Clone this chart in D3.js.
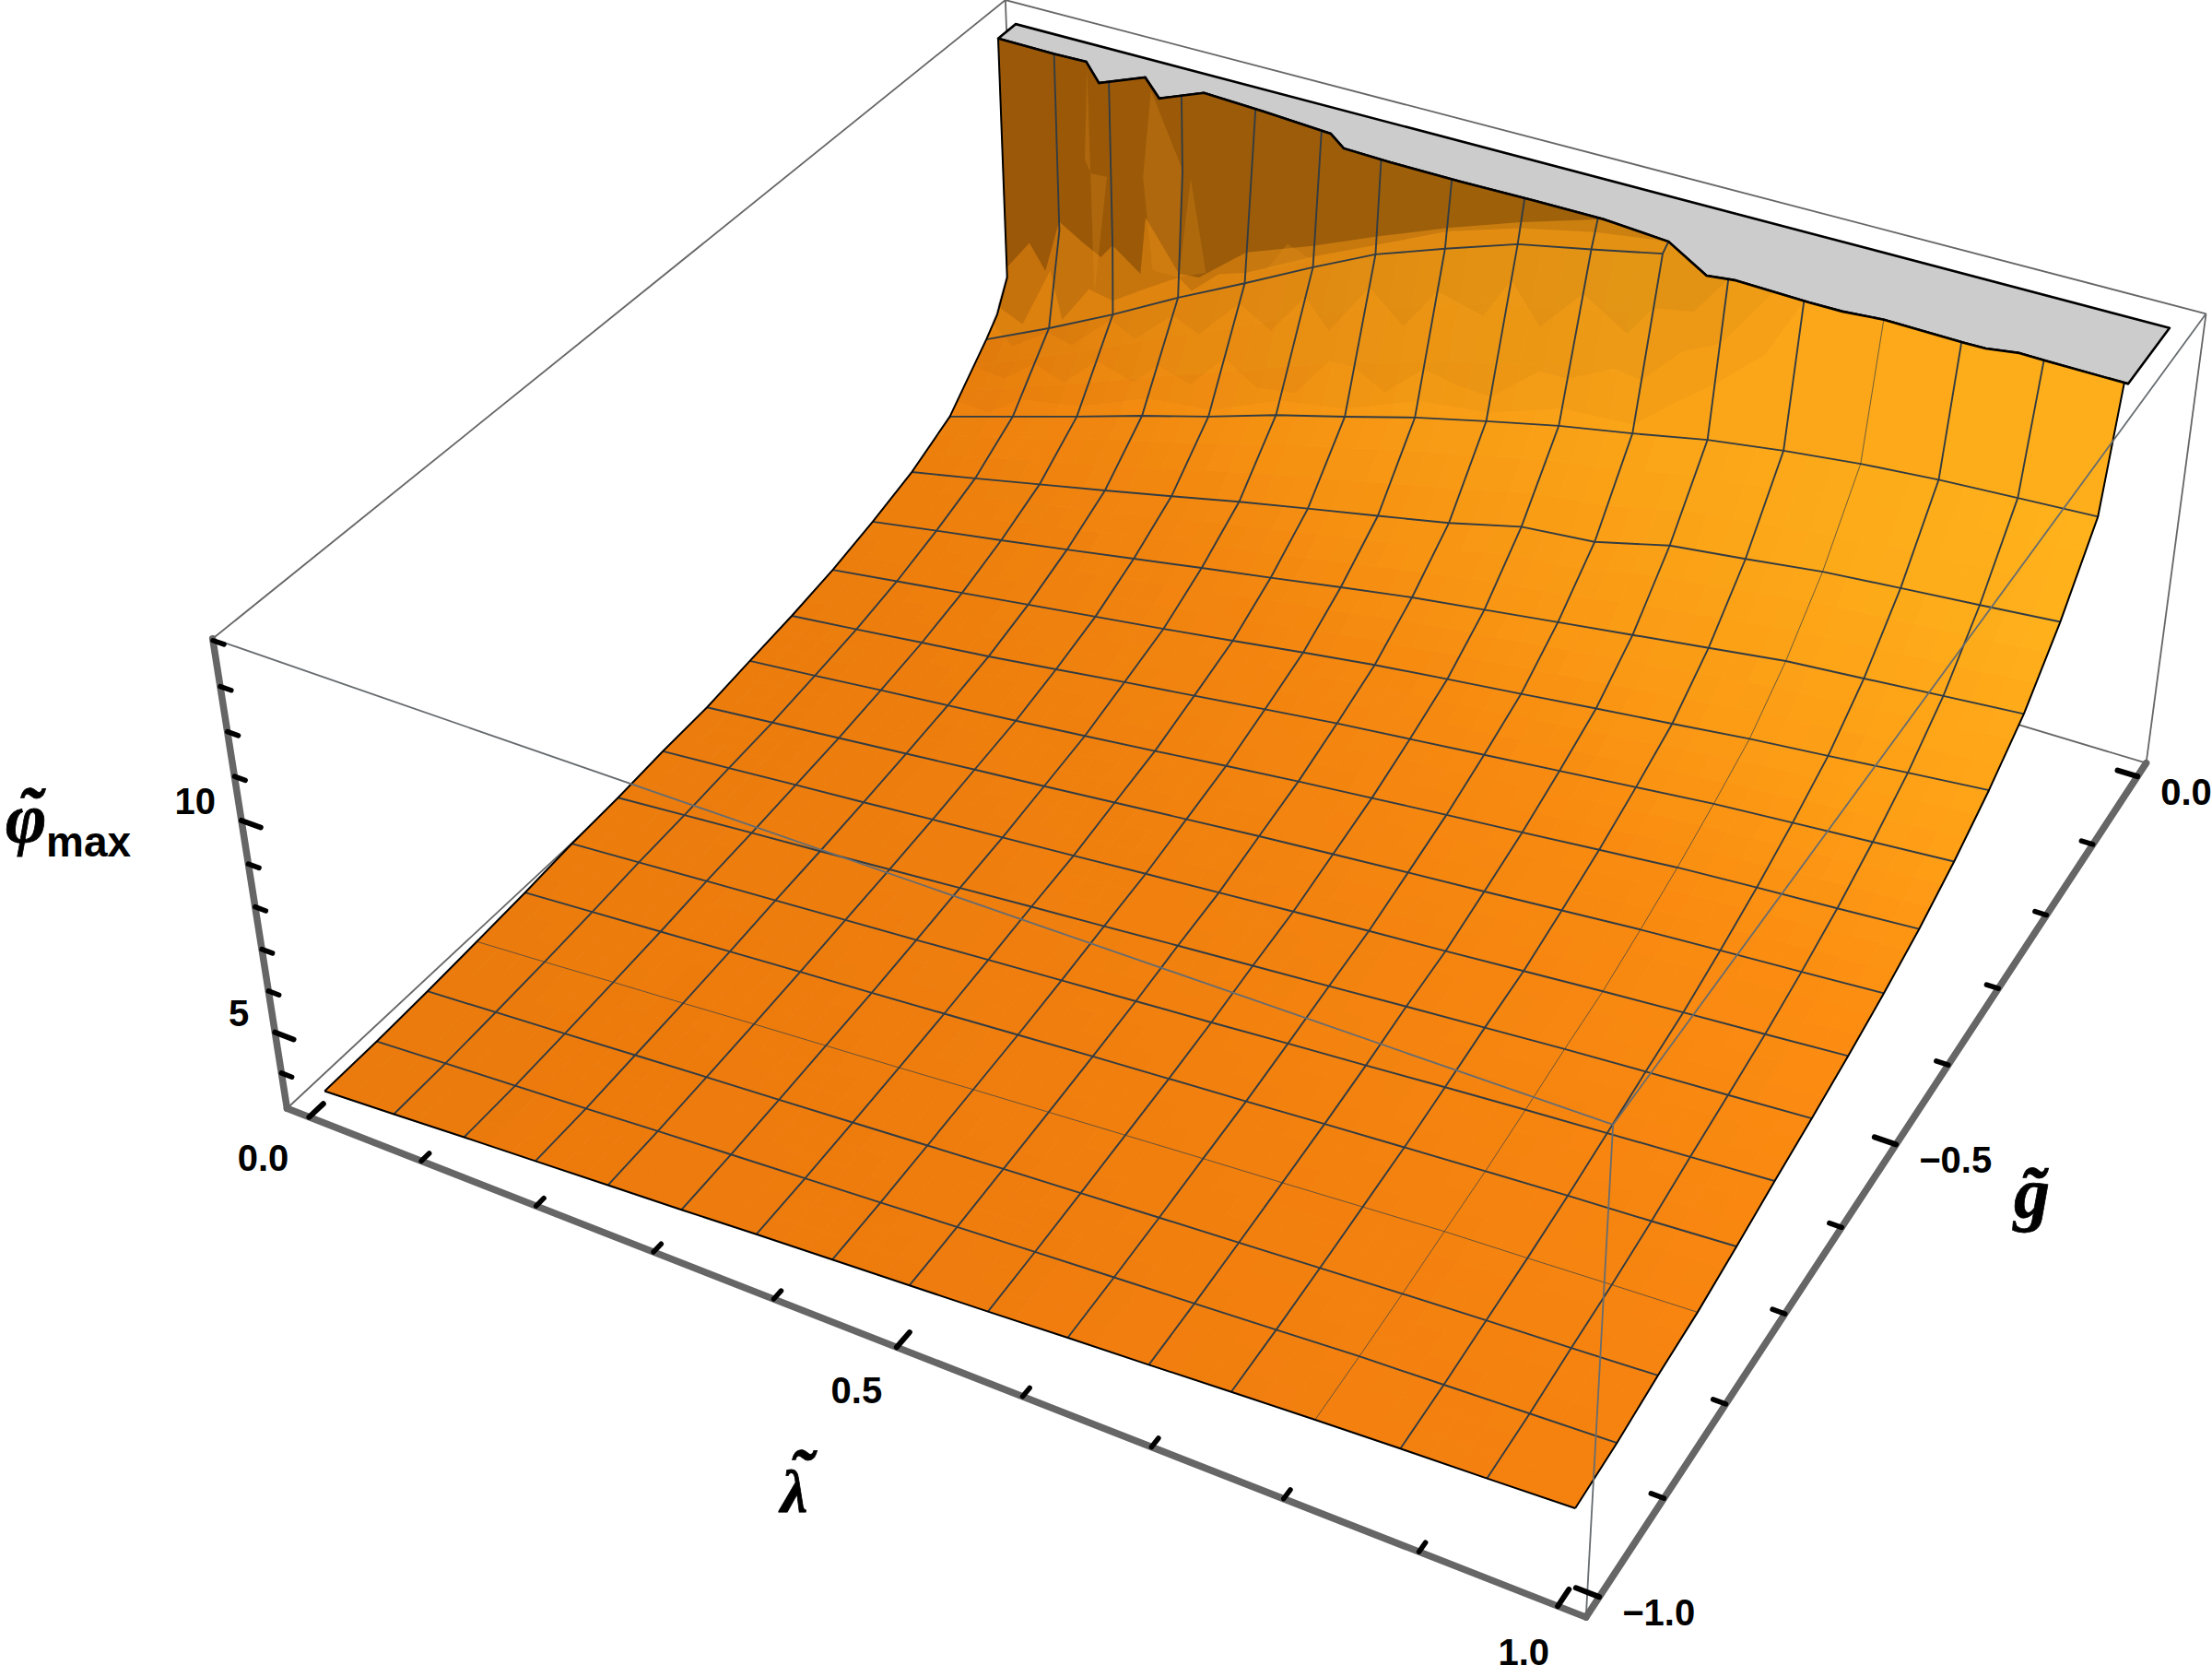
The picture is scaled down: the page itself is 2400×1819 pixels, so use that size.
<!DOCTYPE html><html><head><meta charset="utf-8"></head><body style="margin:0;background:#fff"><script src="https://cdn.jsdelivr.net/npm/d3@7"></script><svg id="s" width="2400" height="1819" style="display:block"></svg><script>
const lambdaGrid=[0,.0625,.125,.1875,.25,.3125,.375,.4375,.5,.5625,.625,.6875,.75,.8125,.875,.9375,1];
const gGrid=[-1,-.9375,-.875,-.8125,-.75,-.6875,-.625,-.5625,-.5,-.4375,-.375,-.3125,-.25,-.1875,-.125,-.0625];
const phiRow0=[3.37,3.47,3.58,3.68,3.78,3.88,3.99,4.09,4.19,4.29,4.40,4.50,4.61,4.71,4.80,4.88,4.97];
const phiRow1=[3.39,3.50,3.61,3.72,3.84,3.95,4.06,4.17,4.28,4.39,4.50,4.60,4.71,4.82,4.90,4.98,5.06];
const phiRow2=[3.45,3.57,3.69,3.81,3.93,4.04,4.16,4.28,4.40,4.51,4.62,4.73,4.84,4.95,5.05,5.14,5.24];
const phiRow3=[3.53,3.65,3.78,3.90,4.03,4.15,4.27,4.40,4.52,4.64,4.76,4.87,4.99,5.11,5.19,5.28,5.36];
const phiRow4=[3.62,3.75,3.88,4.01,4.14,4.26,4.39,4.52,4.65,4.77,4.89,5.02,5.14,5.26,5.37,5.47,5.58];
const phiRow5=[3.74,3.87,4.01,4.14,4.27,4.40,4.54,4.67,4.80,4.93,5.07,5.20,5.34,5.47,5.59,5.71,5.83];
const phiRow6=[3.81,3.96,4.11,4.25,4.40,4.55,4.70,4.84,4.99,5.13,5.27,5.42,5.56,5.70,5.82,5.93,6.05];
const phiRow7=[3.92,4.07,4.23,4.38,4.54,4.69,4.84,5.00,5.15,5.30,5.45,5.59,5.74,5.89,6.03,6.16,6.30];
const phiRow8=[3.99,4.17,4.35,4.53,4.71,4.88,5.06,5.24,5.42,5.58,5.74,5.89,6.05,6.21,6.34,6.46,6.59];
const phiRow9=[4.15,4.33,4.52,4.70,4.88,5.07,5.27,5.48,5.68,5.86,6.04,6.21,6.39,6.57,6.70,6.82,6.95];
const phiRow10=[4.30,4.50,4.71,4.91,5.14,5.38,5.60,5.83,6.05,6.24,6.43,6.62,6.81,7.00,7.14,7.28,7.42];
const phiRow11=[4.50,4.74,4.98,5.22,5.46,5.70,5.95,6.21,6.46,6.67,6.87,7.08,7.28,7.49,7.66,7.84,8.01];
const phiRow12=[4.78,5.07,5.35,5.64,5.94,6.24,6.53,6.83,7.12,7.36,7.60,7.84,8.08,8.32,8.46,8.61,8.75];
const phiRow13=[5.12,5.47,5.83,6.19,6.56,6.94,7.29,7.63,7.98,8.41,8.57,9.01,9.22,9.45,9.60,9.74,9.89];
const phiRow14=[5.64,6.14,6.64,7.16,7.64,8.18,8.64,9.12,9.53,9.92,10.24,10.59,10.84,11.04,11.18,11.27,11.36];
const phiRow15=[6.75,7.52,8.35,9.25,10.08,10.94,11.89,12.53,13.10,13.44,13.9];
const topRowG=[-.0625,-.0625,-.0625,-.0625,-.0625,-.0625,-.075,-.078,-.078,-.078,-.085];
const kneePhi=[8.1,9.7,10.0,12.2];
const leftBendG=-.05,leftBendPhi=7.25;
const cutLambda=[.009,.0625,.092,.119,.147,.174,.201,.257,.321,.341,.383,.445,.507,.567,.625,.671,.692,.754,.781,.8125,.878,.894,.918,.94,1.003];
const cutG=[-.04,-.041,-.04,-.066,-.04,-.065,-.04,-.044,-.05,-.066,-.068,-.069,-.068,-.068,-.075,-.107,-.103,-.106,-.106,-.102,-.104,-.104,-.098,-.099,-.1];
const capBackG=-.012;
const phiTicks=[4,5,6,7,8,9,10,11,12,13,14];
const lambdaTicks=[0,.1,.2,.3,.4,.5,.6,.7,.8,.9,1];
const gTicks=[-1,-.9,-.8,-.7,-.6,-.5,-.4,-.3,-.2,-.1,0];
const phiLabels=[5,10];const lambdaLabels=[0,.5,1];const gLabels=[-1,-.5,0];
const phiRows=[phiRow0,phiRow1,phiRow2,phiRow3,phiRow4,phiRow5,phiRow6,phiRow7,phiRow8,phiRow9,phiRow10,phiRow11,phiRow12,phiRow13,phiRow14,phiRow15];
const phiMin=3.12,phiMax=14.04;
const xS=d3.scaleLinear([-.02,1.02],[0,1]),yS=d3.scaleLinear([-1.02,.02],[0,1]),zS=d3.scaleLinear([phiMin,phiMax],[0,1]);
const calib=[[0,0,0,311,1202],[1,0,0,1722,1754],[1,1,0,2328,828],[0,0,1,231,693],[1,0,1,1749,1220],[1,1,1,2394,340],[0,1,1,1091,0]];
function solve(A,b){const n=b.length;A=A.map((r,i)=>[...r,b[i]]);for(let i=0;i<n;i++){let m=i;for(let k=i;k<n;k++)if(Math.abs(A[k][i])>Math.abs(A[m][i]))m=k;[A[i],A[m]]=[A[m],A[i]];for(let k=0;k<n;k++)if(k!=i){const f=A[k][i]/A[i][i];for(let j=i;j<=n;j++)A[k][j]-=f*A[i][j];}}return A.map((r,i)=>r[n]/r[i]);}
const Rr=[],Bb=[];calib.forEach(([X,Y,Z,u,v])=>{Rr.push([X,Y,Z,1,0,0,0,0,-u*X,-u*Y,-u*Z]);Bb.push(u);Rr.push([0,0,0,0,X,Y,Z,1,-v*X,-v*Y,-v*Z]);Bb.push(v);});
const P=solve(d3.range(11).map(i=>d3.range(11).map(j=>d3.sum(Rr,r=>r[i]*r[j]))),d3.range(11).map(i=>d3.sum(Rr,(r,k)=>r[i]*Bb[k])));
const cam=(X,Y,Z)=>{const w=P[8]*X+P[9]*Y+P[10]*Z+1;return[(P[0]*X+P[1]*Y+P[2]*Z+P[3])/w,(P[4]*X+P[5]*Y+P[6]*Z+P[7])/w];};
const proj=(l,g,z)=>cam(xS(l),yS(g),zS(z));
const svg=d3.select('#s');
const poly=pts=>'M'+pts.map(p=>p[0].toFixed(2)+','+p[1].toFixed(2)).join('L')+'Z';
const line=pts=>'M'+pts.map(p=>p[0].toFixed(2)+','+p[1].toFixed(2)).join('L');
const lerp=(a,b,t)=>[a[0]+(b[0]-a[0])*t,a[1]+(b[1]-a[1])*t,a[2]+(b[2]-a[2])*t];
const cutAt=d3.scaleLinear(cutLambda,cutG).clamp(true);
const cutV=c=>{const l=c==0?cutLambda[0]:lambdaGrid[c];return[l,cutAt(l),phiMax];};
const vtx=(r,c)=>{if(r<=14)return[lambdaGrid[c],gGrid[r],phiRows[r][c]];if(r==15&&c<=10)return[lambdaGrid[c],topRowG[c],phiRow15[c]];return cutV(c);};
const kneeAt=c=>{if(c<kneePhi.length){const v=cutV(c);return[v[0],v[1],kneePhi[c]];}return lerp(vtx(15,c),cutV(c),.5);};
const leftBend=[.004,leftBendG,leftBendPhi];
const lamOfP=d3.scaleLinear(d3.range(17),lambdaGrid);
function wallCol(c,t){const a=vtx(15,c),k=kneeAt(c),b=cutV(c),z=a[2]+(phiMax-a[2])*t;return z<k[2]?lerp(a,k,(z-a[2])/(k[2]-a[2])):lerp(k,b,(z-k[2])/(phiMax-k[2]));}
function surf(p,q){const c=Math.min(15,Math.floor(p)),t=p-c;const l=lamOfP(p);
 if(q>15&&p<=10){const c1=Math.min(9,c),t1=p-c1,u=q-15,v=lerp(wallCol(c1,u),wallCol(c1+1,u),t1);
  const top=lerp(cutV(c1),cutV(c1+1),t1);v[1]+=u*(cutAt(l)-top[1]);return v;}
 const rowAt=r=>{if(r<=14)return lerp(vtx(r,c),vtx(r,c+1),t);if(r==15&&p<=10)return lerp(vtx(15,c),vtx(15,c+1),t);return[l,cutAt(l),phiMax];};
 const r=Math.min(15,Math.floor(q));return lerp(rowAt(r),rowAt(r+1),q-r);}
const colourAt0=d3.scaleLinear([0,.3,.5,1],['#EB7A0C','#EE830E','#F18C10','#F39012']);
const colourAt1=d3.scaleLinear([.15,.3,.4,.6,1],['#F4800F','#FC8D11','#FFA016','#FFB01B','#FFB51C']);
const colourOf=(l,z)=>{const Z=zS(z);return d3.interpolateRgb(colourAt0(Z),colourAt1(Z))(l);};
const gBack=svg.append('g'),gCap=svg.append('g'),gSurf=svg.append('g'),gWall=svg.append('g'),gMesh=svg.append('g'),gFront=svg.append('g'),gAxes=svg.append('g'),gText=svg.append('g');
const boxL=[-.02,1.02],boxG=[-1.02,.02],boxZ=[phiMin,phiMax];
const corner=(a,b,c)=>proj(boxL[a],boxG[b],boxZ[c]);
const backEdges=[[[0,0,0],[0,1,0]],[[0,1,0],[1,1,0]],[[0,1,0],[0,1,1]],[[0,0,1],[0,1,1]],[[0,1,1],[1,1,1]],[[1,1,0],[1,1,1]]];
const frontEdges=[[[0,0,1],[1,0,1]],[[1,0,1],[1,1,1]],[[1,0,0],[1,0,1]]];
const edge=e=>line(e.map(c=>corner(...c)));
gBack.selectAll('path').data(backEdges).join('path').attr('d',edge).attr('fill','none').attr('stroke','#666').attr('stroke-width',1.8);
const capEdge=cutLambda.map((l,i)=>proj(l,cutG[i],phiMax));
gCap.append('path').attr('d',poly([...capEdge,proj(cutLambda[cutLambda.length-1],capBackG,phiMax),proj(cutLambda[0],capBackG,phiMax)])).attr('fill','#CCCCCC').attr('stroke','#000').attr('stroke-width',2.6).attr('stroke-linejoin','round');
const sub=3;
for(let r=0;r<15;r++)for(let c=0;c<16;c++){for(let i=0;i<sub;i++)for(let j=0;j<sub;j++){
 if(r==14&&c>=10)continue;
 const a=surf(c+j/sub,r+i/sub),b=surf(c+(j+1)/sub,r+i/sub),d=surf(c+(j+1)/sub,r+(i+1)/sub),e=surf(c+j/sub,r+(i+1)/sub);
 const col=colourOf((a[0]+b[0])/2,(a[2]+d[2])/2);
 gSurf.append('path').attr('d',poly([a,b,d,e].map(v=>proj(...v)))).attr('fill',col).attr('stroke',col).attr('stroke-width',.9);}}
const cutBetween=(p0,p1)=>{const l0=lamOfP(p0),l1=lamOfP(p1);return cutLambda.map((l,i)=>[l,cutG[i],phiMax]).filter(v=>v[0]>l0&&v[0]<l1);};
for(let c=0;c<16;c++){const low=c<10?15:14;
 const all=[vtx(low,c),vtx(low,c+1)];
 if(c==10)all.unshift(vtx(15,10));
 if(c<10)all.push(kneeAt(c+1));
 const top=[cutV(c+1),...cutBetween(c,c+1).reverse(),cutV(c)];
 if(c<10)top.push(kneeAt(c));
 if(c==0)top.push(leftBend);
 const col=colourOf(lambdaGrid[c],10);
 gSurf.append('path').attr('d',poly([...all,...top].map(v=>proj(...v)))).attr('fill',col).attr('stroke',col).attr('stroke-width',.9);}
const wallLayers=[
 {o:.03,low:[[0,14.2],[.6,14.05],[1,14.2],[2,14.1],[3,14.15],[4,14.05],[5,14.1],[6,14.05],[7,14.1],[8,14.05],[9,14.1],[10,14.05],[10.5,14.2],[11,14.35],[11.6,14.6],[12,15]]},
 {o:.035,low:[[0,14.65],[.6,14.45],[1,14.6],[1.6,14.35],[2,14.55],[2.7,14.3],[3,14.43],[3.6,14.25],[4,14.44],[4.6,14.2],[5.2,14.15],[5.6,14.35],[6,14.31],[6.5,14.15],[7,14.29],[7.5,14.2],[8,14.14],[8.6,14.3],[9,14.27],[9.6,14.35],[10,14.3],[10.5,14.5],[11,14.6],[11.6,15]]},
 {o:.05,low:[[0,15.05],[.5,14.85],[1,14.95],[1.5,14.75],[2,14.95],[2.5,14.7],[3,14.85],[3.5,14.65],[4,14.85],[4.6,14.6],[5,14.8],[5.5,14.55],[6,14.8],[6.6,14.55],[7,14.75],[7.7,14.6],[8,14.8],[8.5,14.55],[9,14.75],[9.7,14.55],[10,14.7],[10.6,14.75],[11,15]]},
 {o:.14,low:[[0,15.1],[.55,15.03],[.9,15.2],[1.2,15.02],[1.6,15.12],[2,15.06],[2.5,15.08],[3,15.1],[3.2,15.02],[3.6,15.08],[4,15.06],[5,15.08],[6,15.1],[7,15.25],[8,15.35],[9,15.55],[9.9,15.9],[10,16]]},
 {o:.3,low:[[0,15.22],[.45,15.3],[.8,15.2],[1,15.37],[1.4,15.3],[1.8,15.25],[2,15.3],[2.4,15.15],[2.45,15.4],[3,15.12],[3.3,15.08],[3.8,15.15],[4,15.18],[5,15.16],[6,15.19],[7,15.3],[8,15.48],[9,15.95],[9.3,16]]}];
wallLayers.forEach(L=>{const pS=L.low[0][0],pE=L.low[L.low.length-1][0];
 const top=[[lamOfP(pE),cutAt(lamOfP(pE)),phiMax],...cutBetween(pS,pE).reverse(),cutV(0)];
 const q0=L.low[0][1];const side=d3.range(15.9,q0,-.1).map(q=>surf(0,q));
 gWall.append('path').attr('d',poly([...L.low.map(([p,q])=>surf(p,q)),...top,...side].map(v=>proj(...v)))).attr('fill','#3c1e00').attr('fill-opacity',L.o);});
const lightSpikes=[[[1.5,15.98],[1.45,15.62],[1.6,15.58],[1.95,15.6],[1.7,15.1]],[[2.53,15.98],[3,15.63],[3,15.1],[2.6,15.16],[2.37,15.57]],[[3.1,15.58],[3.4,15.1],[3,15.1]],[[4.6,15.2],[5,15.05],[4.3,15.05]]];
lightSpikes.forEach(s=>gWall.append('path').attr('d',poly(s.map(([p,q])=>proj(...surf(p,q))))).attr('fill','#E8951A').attr('fill-opacity',.25));
const meshCol='#333C42';
const thinRow=3,thinCol=13;
d3.range(1,16).forEach(r=>{const last=r==15?10:16;const pts=d3.range(0,last+1).map(c=>proj(...vtx(r,c)));
 gMesh.append('path').attr('d',line(pts)).attr('fill','none').attr('stroke',meshCol).attr('stroke-width',r==thinRow?.7:1.9);});
const colLine=c=>{const pts=d3.range(0,16).filter(r=>r<15||c<=10).map(r=>vtx(r,c));if(c==0)pts.push(leftBend);if(c<kneePhi.length)pts.push(kneeAt(c));pts.push(cutV(c));return pts.map(v=>proj(...v));};
d3.range(1,16).forEach(c=>gMesh.append('path').attr('d',line(colLine(c))).attr('fill','none').attr('stroke',meshCol).attr('stroke-width',c==thinCol?.7:1.9));
const left=colLine(0);
const right=d3.range(0,15).map(r=>proj(...vtx(r,16))).concat([proj(...cutV(16))]);
const bottom=d3.range(0,17).map(c=>proj(...vtx(0,c)));
[left,right,bottom].forEach(b=>gMesh.append('path').attr('d',line(b)).attr('fill','none').attr('stroke','#000').attr('stroke-width',2).attr('stroke-linejoin','round'));
gMesh.append('path').attr('d',line(capEdge)).attr('fill','none').attr('stroke','#000').attr('stroke-width',2.6);
gFront.selectAll('path').data(frontEdges).join('path').attr('d',edge).attr('fill','none').attr('stroke','#666C70').attr('stroke-width',1.8);
const axes=[[[0,0,0],[0,0,1]],[[0,0,0],[1,0,0]],[[1,0,0],[1,1,0]]];
gAxes.selectAll('path').data(axes).join('path').attr('d',edge).attr('fill','none').attr('stroke','#666').attr('stroke-width',7.5).attr('stroke-linecap','round');
const tick=(a,b,w)=>gAxes.append('path').attr('d',line([a,b])).attr('stroke','#000').attr('stroke-width',w).attr('stroke-linecap','round');
const major=.016,minor=.009;
phiTicks.forEach(z=>{const m=phiLabels.includes(z);tick(proj(-.02,-1.02,z),cam(m?major:minor,0,zS(z)),m?6:5.5);});
lambdaTicks.forEach(l=>{const m=lambdaLabels.includes(l);tick(proj(l,-1.02,phiMin),cam(xS(l),m?major:minor,0),m?6:5.5);});
gTicks.forEach(g=>{const m=gLabels.includes(g);tick(proj(1.02,g,phiMin),cam(1-(m?major:minor),yS(g),0),m?6:5.5);});
const tf="'Liberation Sans',Arial,sans-serif",sf="'Liberation Serif','Times New Roman',serif";
const label=(x,y,s,a)=>gText.append('text').attr('x',x).attr('y',y).attr('dy','.36em').attr('text-anchor',a).attr('font-family',tf).attr('font-weight',700).attr('font-size',40).text(s);
phiLabels.forEach(z=>{const b=proj(-.02,-1.02,z);label(b[0]-28,b[1]-21,String(z),'end');});
lambdaLabels.forEach(l=>{const b=proj(l,-1.02,phiMin);label(b[0]-50+13*l,b[1]+44+5*l,d3.format('.1f')(l),'middle');});
gLabels.forEach(g=>{const b=proj(1.02,g,phiMin);label(b[0]+25,b[1]+16,d3.format('.1f')(g).replace('-','\u2212'),'start');});
const symSpan=(t,x,y,s,fs)=>t.append('tspan').attr('x',x).attr('y',y).attr('font-family',sf).attr('font-weight',700).attr('font-style','italic').attr('font-size',fs).attr('stroke','#000').attr('stroke-width',.8).text(s);
const tPhi=gText.append('text');
symSpan(tPhi,6,913,'\u03C6',76);symSpan(tPhi,19,907,'\u02DC',76);
tPhi.append('tspan').attr('x',50).attr('y',929).attr('font-family',tf).attr('font-weight',700).attr('font-size',46).text('max');
const tLam=gText.append('text');
symSpan(tLam,847,1640,'\u03BB',66);symSpan(tLam,856,1625,'\u02DC',76);
const tG=gText.append('text');
symSpan(tG,2185,1320,'g\u0303',78);
</script></body></html>
